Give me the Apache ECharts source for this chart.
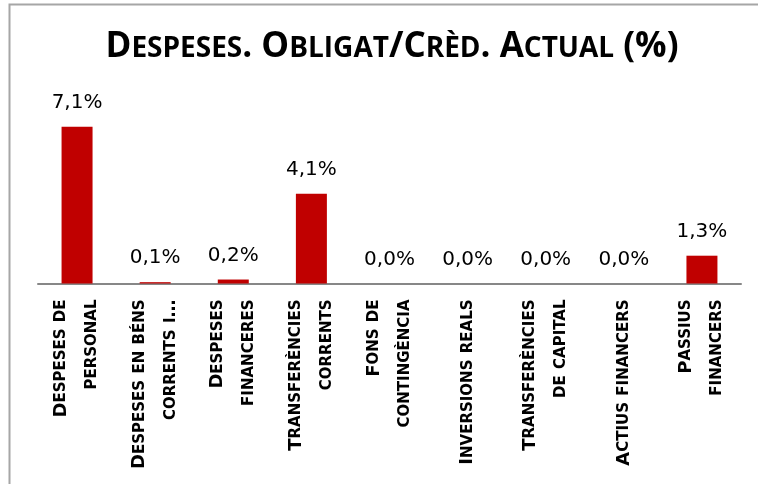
<!DOCTYPE html>
<html><head><meta charset="utf-8">
<script src="https://cdn.jsdelivr.net/npm/echarts@6/dist/echarts.min.js"></script>
<style>html,body{margin:0;padding:0;background:#fff}#c{width:758px;height:484px}</style>
</head><body><div id="c"></div>
<script>
const titleText = 'Despeses. Obligat/Crèd. Actual (%)';
const categories = ['Despeses de\npersonal', 'Despeses en béns\ncorrents i…', 'Despeses\nfinanceres', 'Transferències\ncorrents', 'Fons de\ncontingència', 'Inversions reals', 'Transferències\nde capital', 'Actius financers', 'Passius\nfinancers'];
const values = [7.1, 0.06, 0.18, 4.07, 0, 0, 0, 0, 1.26];

function smallCaps(str) {
  return str.split('\n').map(line => {
    let out = '', cur = null, buf = '';
    for (const ch of line) {
      const isLower = ch !== ch.toUpperCase();
      const cls = isLower ? 's' : 'b';
      if (cls !== cur) { if (buf) out += '{' + cur + '|' + buf + '}'; buf = ''; cur = cls; }
      buf += isLower ? ch.toUpperCase() : ch;
    }
    if (buf) out += '{' + cur + '|' + buf + '}';
    return out;
  }).join('\n');
}

const TITLE_FONT = '"Open Sans"';
const LABEL_FONT = '"DejaVu Sans"';
const chart = echarts.init(document.getElementById('c'), null, {renderer: 'canvas'});
chart.setOption({
  backgroundColor: '#fff',
  animation: false,
  graphic: [
    {type: 'polyline', silent: true, shape: {points: [[9.5, 484], [9.5, 4.5], [758, 4.5]]}, style: {stroke: '#a6a6a6', lineWidth: 2, fill: null}},
    {type: 'text', x: 392, y: 47, silent: true, style: {
      text: smallCaps(titleText), align: 'center', verticalAlign: 'middle', fill: '#000',
      rich: {
        b: {fontFamily: TITLE_FONT, fontWeight: 'bold', fontSize: 35, fill: '#000'},
        s: {fontFamily: TITLE_FONT, fontWeight: 'bold', fontSize: 28, fill: '#000', padding: [4, 0, 0, 0]}
      }
    }}
  ],
  grid: {left: 38, right: 17, top: 107, bottom: 200.5},
  xAxis: {
    type: 'category', data: categories,
    axisLine: {lineStyle: {color: '#878787', width: 2}},
    axisTick: {show: false},
    axisLabel: {
      interval: 0, rotate: 90, margin: 16, color: '#000',
      formatter: v => smallCaps(v),
      rich: {
        b: {fontFamily: LABEL_FONT, fontWeight: 'bold', fontSize: 18, lineHeight: 31, color: '#000'},
        s: {fontFamily: LABEL_FONT, fontWeight: 'bold', fontSize: 15, lineHeight: 31, color: '#000'}
      }
    }
  },
  yAxis: {type: 'value', min: 0, max: 8, show: false, splitLine: {show: false}},
  series: [{
    type: 'bar', data: values, barWidth: 31,
    itemStyle: {color: '#C00000'},
    label: {
      show: true, position: 'top', distance: 14, fontFamily: LABEL_FONT, fontSize: 20, color: '#000',
      formatter: p => p.value.toFixed(1).replace('.', ',') + '%'
    }
  }]
});
</script>
</body></html>
